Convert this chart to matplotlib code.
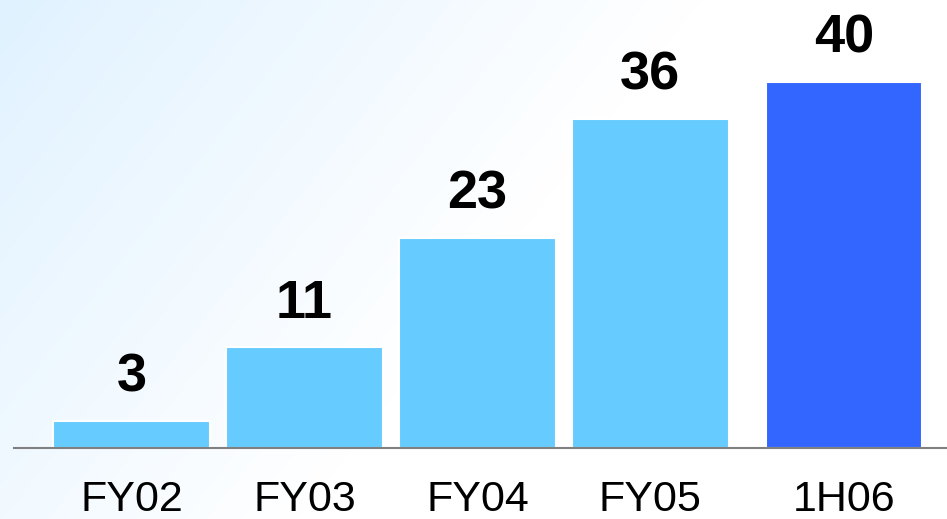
import numpy as np
import matplotlib
matplotlib.use("Agg")
import matplotlib.pyplot as plt

categories = ["FY02", "FY03", "FY04", "FY05", "1H06"]
values = [3, 11, 23, 36, 40]
bar_colors = ["#66CCFF", "#66CCFF", "#66CCFF", "#66CCFF", "#3366FF"]

# layout
positions = [0, 1, 2, 3, 4.12]
W, H = 947, 519
fig = plt.figure(figsize=(W / 100, H / 100), dpi=100)

# background gradient
bg = fig.add_axes([0, 0, 1, 1])
yy, xx = np.mgrid[0:H, 0:W]
t = np.clip(xx / 700 + yy / 900, 0, 1)[..., None]
c0 = np.array([224, 242, 255]) / 255
img = c0 * (1 - t) + np.ones(3) * t
bg.imshow(img, aspect="auto", extent=[0, 1, 0, 1], origin="upper")
bg.axis("off")

ax = fig.add_axes([14 / W, (H - 448) / H, 933 / W, 448 / H])
ax.patch.set_alpha(0)
ax.bar(positions, values, width=0.905, color=bar_colors, edgecolor="white",
       linewidth=1.5, zorder=2)
ax.set_xlim(-0.68, 4.715)
ax.set_ylim(0, 48.96)
for s in ["top", "right", "left"]:
    ax.spines[s].set_visible(False)
ax.spines["bottom"].set_color("#808080")
ax.spines["bottom"].set_linewidth(1.5)
ax.set_yticks([])
ax.set_xticks(positions)
ax.set_xticklabels(categories, fontsize=31, family="Liberation Sans")
ax.tick_params(axis="x", length=0, pad=23)
for p, v in zip(positions, values):
    ax.annotate(str(v), (p, v), xytext=(0, 29), textcoords="offset pixels",
                ha="center", va="baseline", fontsize=39, fontweight="bold",
                family="Liberation Sans")

fig.savefig("out.png", dpi=100)
